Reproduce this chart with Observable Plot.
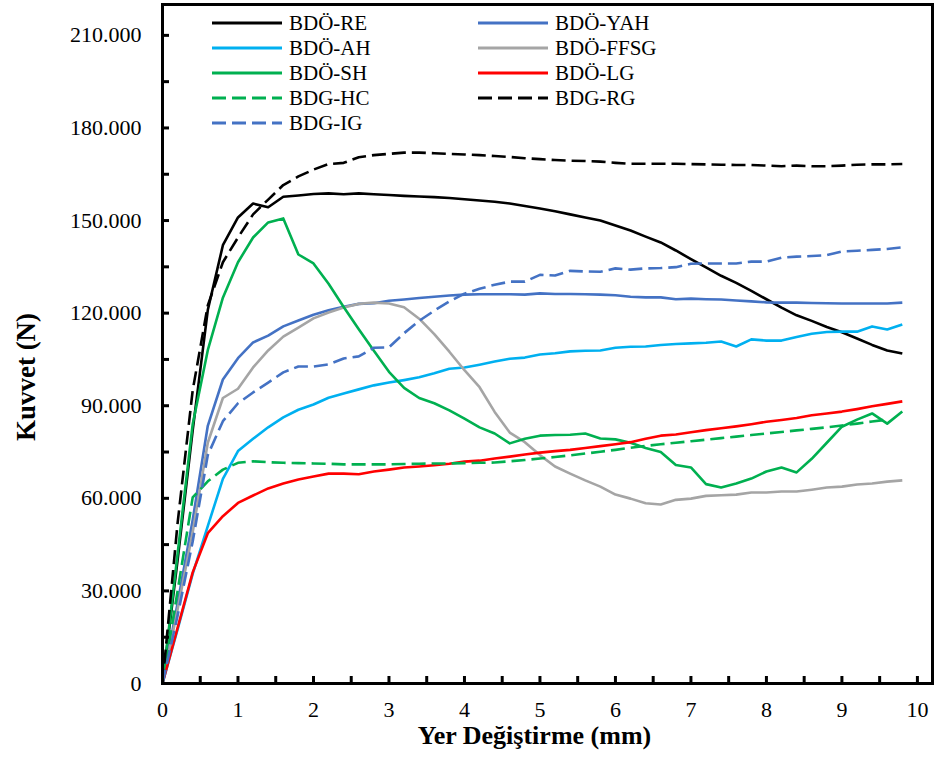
<!DOCTYPE html>
<html><head><meta charset="utf-8">
<script src="https://cdn.jsdelivr.net/npm/d3@7"></script>
<script src="https://cdn.jsdelivr.net/npm/@observablehq/plot@0.6"></script>
<style>
body{margin:0;background:#fff}
#wrap{position:relative;width:940px;height:760px;font-family:"Liberation Serif","Times New Roman",serif}
.item{position:absolute;display:flex;align-items:center;font-size:21px;height:25px;line-height:25px;white-space:nowrap;color:#000}
.item svg{margin-right:7px}
</style></head><body><div id="wrap"></div>
<script>
// Displacement (mm)
const xs = [0,0.2,0.4,0.6,0.8,1.0,1.2,1.4,1.6,1.8,2.0,2.2,2.4,2.6,2.8,3.0,3.2,3.4,3.6,3.8,4.0,4.2,4.4,4.6,4.8,5.0,5.2,5.4,5.6,5.8,6.0,6.2,6.4,6.6,6.8,7.0,7.2,7.4,7.6,7.8,8.0,8.2,8.4,8.6,8.8,9.0,9.2,9.4,9.6,9.8];
// Force (N)
const RE = [0,40000,82000,121000,142000,151000,155500,154300,157700,158100,158600,158800,158500,158800,158500,158300,158000,157800,157600,157300,156900,156500,156100,155500,154700,153900,153000,152000,151000,150000,148400,146800,144800,142900,140300,137500,134800,132100,129800,127200,124500,121800,119300,117500,115500,113800,111800,109700,107900,106900];
const YAH = [0,26000,53000,83500,98500,105400,110500,112700,115700,117600,119500,120900,122100,123000,123200,124000,124400,124900,125300,125700,126000,126100,126100,126100,126000,126400,126200,126200,126100,126000,125800,125300,125100,125100,124500,124700,124500,124400,124100,123800,123500,123400,123400,123300,123200,123100,123100,123100,123100,123400];
const AH = [0,17500,35500,51000,66300,75300,79300,83000,86200,88700,90400,92600,94000,95300,96600,97500,98300,99200,100500,102000,102400,103300,104300,105200,105600,106600,107000,107600,107800,107900,108800,109100,109200,109700,110000,110200,110400,110800,109200,111500,111100,111100,112300,113300,113900,114000,114000,115700,114700,116300];
const FFSG = [0,24000,49000,78000,92500,95500,102400,107900,112400,115300,118300,120200,121800,123000,123400,123100,121900,118200,113200,107500,101500,96000,88000,81300,78200,74000,70300,68000,65800,63800,61200,59900,58400,58000,59500,59900,60800,61000,61200,61900,61900,62200,62200,62800,63500,63800,64500,64800,65400,65800];
const SH = [0,42000,84000,108000,125000,136500,144500,149400,150700,139000,136100,129500,122000,114800,107800,101000,95800,92500,90800,88500,85800,83000,81000,77800,79300,80300,80500,80600,81000,79400,79100,78000,76300,75000,70800,70000,64600,63500,64800,66400,68700,70000,68400,72800,78000,83200,85500,87500,84200,88100];
const LG = [0,18000,36000,48700,54200,58500,60900,63200,64800,66100,67100,68000,68000,67800,68700,69300,70000,70300,70700,71200,71900,72200,72900,73500,74200,74800,75300,75700,76300,76900,77500,78200,79300,80300,80700,81400,82100,82700,83300,84000,84800,85400,86000,86900,87500,88100,88900,89800,90600,91400];
const HC = [0,30000,60300,65500,69300,71500,72000,71700,71500,71400,71300,71200,71000,71000,71000,71000,71100,71200,71300,71300,71400,71500,71600,72000,72400,72900,73400,73900,74500,75100,75700,76400,77000,77500,78000,78500,79000,79500,80000,80500,81000,81500,82000,82500,83000,83600,84200,84900,85500];
const RG = [0,52000,95000,122500,136500,144500,152000,156800,161500,164300,166500,168300,168700,170500,171200,171600,172000,172000,171800,171600,171400,171200,170900,170600,170200,169900,169600,169400,169300,169100,168700,168400,168400,168400,168400,168300,168200,168100,168000,168000,167800,167600,167800,167600,167600,167800,168100,168200,168200,168300];
const IG = [0,22000,46000,74000,85000,90800,94300,97500,100800,102700,102700,103400,105300,106000,108800,108900,113500,117500,120800,123800,126300,127900,129200,130200,130200,132400,132200,133700,133500,133400,134500,134100,134500,134600,134900,136000,136100,136100,136100,136700,136700,138000,138300,138500,138800,140000,140200,140500,140800,141300];

const seriesNames = ["BDÖ-RE","BDÖ-YAH","BDÖ-AH","BDÖ-FFSG","BDÖ-SH","BDÖ-LG","BDG-HC","BDG-RG","BDG-IG"];
const seriesValues = [RE, YAH, AH, FFSG, SH, LG, HC, RG, IG];
const seriesColors = ["#000000","#4472C4","#00B0F0","#A5A5A5","#00B050","#FF0000","#00B050","#000000","#4472C4"];
const seriesDashed = [false,false,false,false,false,false,true,true,true];

const xTickLabels = [0,1,2,3,4,5,6,7,8,9,10];
const xMinorTicks = [0,0.5,1,1.5,2,2.5,3,3.5,4,4.5,5,5.5,6,6.5,7,7.5,8,8.5,9,9.5,10];
const yTickLabels = [0,30000,60000,90000,120000,150000,180000,210000];
const yMinorTicks = [0,15000,30000,45000,60000,75000,90000,105000,120000,135000,150000,165000,180000,195000,210000];

const xTitle = "Yer Değiştirme (mm)";
const yTitle = "Kuvvet (N)";

const trFormat = d3.formatLocale({decimal: ",", thousands: ".", grouping: [3], currency: ["", ""]}).format(",");

const W = 940, H = 760;
const mL = 162, mR = 8, mT = 4, mB = 77;
const innerW = W - mL - mR, innerH = H - mT - mB;
const DASH = "14,6";

const lineMarks = seriesNames.map((name, i) => {
  const data = seriesValues[i].map((v, j) => ({x: xs[j], y: v, name}));
  return Plot.line(data, {x: "x", y: "y", stroke: seriesColors[i], strokeWidth: 2.6,
    strokeDasharray: seriesDashed[i] ? DASH : null, strokeLinejoin: "round", strokeLinecap: "butt"});
});

const chart = Plot.plot({
  width: W, height: H,
  marginLeft: mL, marginRight: mR, marginTop: mT, marginBottom: mB,
  style: {fontFamily: '"Liberation Serif","Times New Roman",serif', fontSize: "22px", color: "#000", background: "#fff"},
  x: {domain: [0, 10.2]},
  y: {domain: [0, 220000]},
  marks: [
    ...lineMarks,
    Plot.tickY(yMinorTicks, {y: d => d, stroke: "#000", strokeWidth: 3, insetRight: innerW - 7}),
    Plot.tickX(xMinorTicks, {x: d => d, stroke: "#000", strokeWidth: 3, insetTop: innerH - 7}),
    Plot.frame({stroke: "#000", strokeWidth: 3}),
    Plot.axisY({ticks: yTickLabels, tickSize: 0, tickPadding: 21, tickFormat: d => d === 0 ? "0" : trFormat(d), label: null, fontSize: 22}),
    Plot.axisX({ticks: xTickLabels, tickSize: 0, tickPadding: 18, tickFormat: d => String(d), label: null, fontSize: 22}),
    Plot.text([xTitle], {text: d => d, frameAnchor: "bottom", textAnchor: "middle", lineAnchor: "middle", dy: 52, dx: -13, fontWeight: "bold", fontSize: 26, fill: "#000"}),
    Plot.text([yTitle], {text: d => d, frameAnchor: "left", textAnchor: "middle", lineAnchor: "middle", rotate: -90, dx: -136, dy: 33, fontWeight: "bold", fontSize: 27, fill: "#000"})
  ]
});

const wrap = document.getElementById("wrap");
wrap.appendChild(chart);

// Legend overlay (inside plot area, top)
seriesNames.forEach((name, i) => {
  const row = Math.floor(i / 2), col = i % 2;
  const item = document.createElement("div");
  item.className = "item";
  item.style.left = (col === 0 ? 212 : 478) + "px";
  item.style.top = (10.5 + row * 25) + "px";
  const dash = seriesDashed[i] ? `stroke-dasharray="${DASH}"` : "";
  item.innerHTML = `<svg width="70" height="6"><line x1="0" y1="3" x2="70" y2="3" stroke="${seriesColors[i]}" stroke-width="2.8" ${dash}/></svg><span>${name}</span>`;
  wrap.appendChild(item);
});
</script>
</body></html>
